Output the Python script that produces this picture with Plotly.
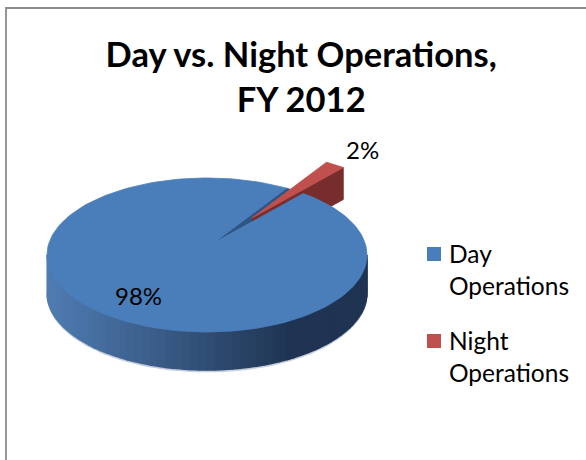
import math
import plotly.graph_objects as go

categories = ["Day<br>Operations", "Night<br>Operations"]
values = [98, 2]
percent_labels = ["98%", "2%"]
title_lines = ["Day vs. Night Operations,", "FY 2012"]

# pie projection (pixels of the 586x460 canvas)
CX, CY, RX, RY = 207, 255, 160, 77
APEX = (212, 244)
DEPTH = 38
EXPLODE = (40, -26)
NIGHT_START = 53.0
FONT = "Lato"


def rim(t, dx=0, dy=0):
    a = math.radians(t)
    return CX + RX * math.cos(a) + dx, CY - RY * math.sin(a) + dy


def arc(t0, t1, dx=0, dy=0, n=180):
    pts = [rim(t0 + (t1 - t0) * i / n, dx, dy) for i in range(n + 1)]
    return [p[0] for p in pts], [p[1] for p in pts]


def mix(c0, c1, f):
    f = max(0, min(1, f))
    return "rgb(%d,%d,%d)" % tuple(round(a + (b - a) * f) for a, b in zip(c0, c1))


fig = go.Figure()


def poly(xs, ys, color, lw=0.8):
    fig.add_trace(go.Scatter(x=xs, y=ys, mode="lines", fill="toself", fillcolor=color,
                             line=dict(width=lw, color=color), hoverinfo="skip", showlegend=False))


night_sweep = 360 * values[1] / sum(values)
night_end = NIGHT_START + night_sweep
ex, ey = EXPLODE

# soft fringe below the wall
xs, ys = arc(180, 360)
xb, yb = arc(360, 180, 0, DEPTH + 2)
poly(xs + xb, ys + yb, "#c3ccd8")

# blue outer wall, shaded along the rim
steps = 60
for i in range(steps):
    t0 = 180 + 180 * i / steps
    t1 = 180 + 180 * (i + 1) / steps
    x0, y0 = arc(t0, t1, n=2)
    x1, y1 = arc(t1, t0, 0, DEPTH, n=2)
    f = (x0[0] - (CX - RX)) / 240
    poly(x0 + x1, y0 + y1, mix((79, 124, 178), (31, 52, 82), f), lw=1.5)

# blue radial wall seen in the slot of the exploded slice
xg, yg = arc(NIGHT_START, night_end, n=10)
poly([APEX[0]] + xg + [APEX[0]], [APEX[1]] + yg + [APEX[1]], "#2f5587")

# red exploded slice: wall then top
apex_red = (APEX[0] + ex, APEX[1] + ey)
c = rim(NIGHT_START, ex, ey)
poly([apex_red[0], c[0], c[0], apex_red[0]],
     [apex_red[1], c[1], c[1] + DEPTH - 6, apex_red[1] + DEPTH - 6], "#772d2b")
xr, yr = arc(NIGHT_START, night_end, ex, ey, n=10)
poly([apex_red[0]] + xr + [apex_red[0]], [apex_red[1]] + yr + [apex_red[1]], "#c0504d")

# blue top
xb, yb = arc(night_end, NIGHT_START + 360)
poly([APEX[0]] + xb + [APEX[0]], [APEX[1]] + yb + [APEX[1]], "#4a7ebb")

# legend: swatches and wrapped names
for name, color, (sx, sy), (tx, ty) in zip(categories, ["#4a7ebb", "#c0504d"],
                                           [(434, 254), (434, 341)], [(447, 269), (447, 356)]):
    fig.add_trace(go.Scatter(x=[sx], y=[sy], mode="markers", name=name.replace("<br>", " "),
                             marker=dict(symbol="square", size=14, color=color),
                             hoverinfo="name", showlegend=False))
    fig.add_annotation(x=tx, y=ty, text=name, showarrow=False, xanchor="left", align="left",
                       font=dict(family=FONT, size=24.5, color="black"))

# data labels
for text, (px, py) in zip(percent_labels, [(138, 295), (362, 149)]):
    fig.add_annotation(x=px, y=py, text=text, showarrow=False,
                       font=dict(family=FONT, size=24, color="black"))

# frame
fig.add_shape(type="rect", x0=6, y0=8, x1=640, y1=520,
              line=dict(color="#8c8c8c", width=1.8), fillcolor="rgba(0,0,0,0)")

fig.update_layout(
    width=586, height=460, margin=dict(l=0, r=0, t=0, b=0),
    paper_bgcolor="white", plot_bgcolor="white",
    title=dict(text="<br>".join(title_lines), x=0.514, xanchor="center", xref="paper",
               y=0.854, yanchor="middle", font=dict(family=FONT, size=34.5, color="black", weight="bold")),
    xaxis=dict(range=[0, 586], visible=False, fixedrange=True),
    yaxis=dict(range=[460, 0], visible=False, fixedrange=True),
    showlegend=False,
)
fig.write_html("out.html", config={"displayModeBar": False},
               post_script="document.body.style.margin='0';document.body.style.overflow='hidden';")
